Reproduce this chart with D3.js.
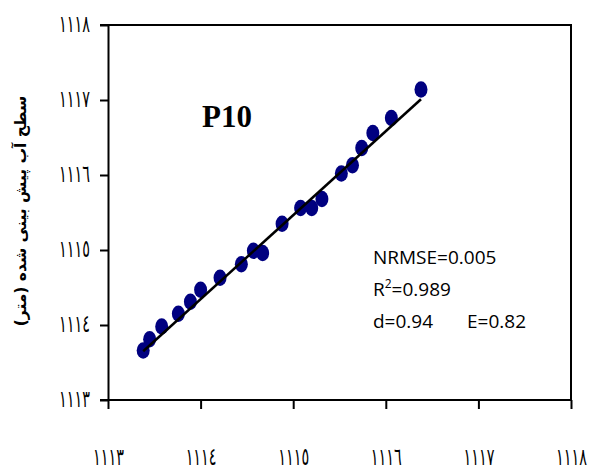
<!DOCTYPE html>
<html>
<head>
<meta charset="utf-8">
<script src="https://cdn.jsdelivr.net/npm/d3@7"></script>
<style>
  body { margin: 0; background: #fff; }
  svg { display: block; }
</style>
</head>
<body>
<div id="container"><svg id="canvas"></svg></div>
<script>
var canvas_width = 591, canvas_height = 472;

// observed (x) vs predicted (y) water level, m
var obsX  = [1113.38, 1113.45, 1113.58, 1113.76, 1113.89, 1114.00, 1114.21, 1114.44, 1114.57, 1114.67,
             1114.88, 1115.08, 1115.20, 1115.31, 1115.52, 1115.64, 1115.74, 1115.86, 1116.06, 1116.38];
var predY = [1113.66, 1113.81, 1113.98, 1114.15, 1114.31, 1114.47, 1114.63, 1114.81, 1114.99, 1114.96,
             1115.35, 1115.56, 1115.56, 1115.68, 1116.02, 1116.13, 1116.36, 1116.56, 1116.76, 1117.14];

// trend line (start / end)
var trendX = [1113.38, 1116.38];
var trendY = [1113.65, 1117.01];

var tickValues = [1113, 1114, 1115, 1116, 1117, 1118];
var tickLabels = ['١١١٣', '١١١٤', '١١١٥', '١١١٦', '١١١٧', '١١١٨'];

var yTitle = 'سطح آب پیش بینی شده (متر)';
var panelName = 'P10';
var stats = ['NRMSE=0.005', '=0.989', 'd=0.94', 'E=0.82'];

// ************************************************************************************** //
// Create

var svg = d3.select('#canvas').attr('width', canvas_width).attr('height', canvas_height);
var plot = { left: 108, right: 571, top: 25, bottom: 400 };
var digitSqueeze = 0.6; // DejaVu arabic digits are short and wide, squeeze them to look like the original

var xScale = d3.scaleLinear().domain([1113, 1118]).range([plot.left, plot.right]);
var yScale = d3.scaleLinear().domain([1113, 1118]).range([plot.bottom, plot.top]);

// frame (top / right)
svg.append('path')
  .attr('d', 'M' + (plot.left - 8) + ',' + plot.top + 'H' + plot.right + 'V' + plot.bottom)
  .attr('fill', 'none').attr('stroke', '#000').attr('stroke-width', 2);

var xAxis = svg.append('g').attr('transform', 'translate(0,' + plot.bottom + ')')
  .call(d3.axisBottom(xScale).tickValues(tickValues).tickSize(9).tickSizeOuter(0).tickPadding(39)
    .tickFormat(function(d, i){ return tickLabels[i]; }));

var yAxis = svg.append('g').attr('transform', 'translate(' + plot.left + ',0)')
  .call(d3.axisLeft(yScale).tickValues(tickValues).tickSize(8).tickSizeOuter(0).tickPadding(10)
    .tickFormat(function(d, i){ return tickLabels[i]; }));

[xAxis, yAxis].forEach(function(ax){
  ax.select('.domain').attr('stroke-width', 2);
  ax.selectAll('.tick line').attr('stroke-width', 2);
  ax.selectAll('.tick text').attr('font-family', '"DejaVu Sans"').attr('font-size', 24).attr('fill', '#000')
    .attr('transform', 'scale(' + digitSqueeze + ',1)');
});
xAxis.select('.domain').attr('d', 'M' + (plot.left - 8) + ',0H' + plot.right);
yAxis.selectAll('.tick text').attr('x', -18 / digitSqueeze).attr('dy', '0.28em');

// points
svg.append('g').selectAll('ellipse').data(obsX).enter().append('ellipse')
  .attr('cx', function(d){ return xScale(d); })
  .attr('cy', function(d, i){ return yScale(predY[i]); })
  .attr('rx', 6.5).attr('ry', 8.3)
  .attr('fill', '#000080');

// trend line
svg.append('line')
  .attr('x1', xScale(trendX[0])).attr('y1', yScale(trendY[0]))
  .attr('x2', xScale(trendX[1])).attr('y2', yScale(trendY[1]))
  .attr('stroke', '#000').attr('stroke-width', 2.5);

// texts
svg.append('text').attr('x', 202).attr('y', 127)
  .attr('font-family', '"Liberation Serif"').attr('font-weight', 'bold').attr('font-size', 31)
  .text(panelName);

var statFont = { 'font-family': '"Open Sans"', 'font-size': 19 };
var t1 = svg.append('text').attr('x', 373).attr('y', 264).text(stats[0]);
var t2 = svg.append('text').attr('x', 373).attr('y', 296);
t2.append('tspan').text('R');
t2.append('tspan').attr('dy', -8).attr('font-size', 12).text('2');
t2.append('tspan').attr('dy', 8).text(stats[1]);
var t3 = svg.append('text').attr('x', 373).attr('y', 328).text(stats[2]);
var t4 = svg.append('text').attr('x', 467).attr('y', 328).text(stats[3]);
[t1, t2, t3, t4].forEach(function(t){
  t.attr('font-family', statFont['font-family']).attr('font-size', statFont['font-size']).attr('fill', '#000');
});

svg.append('text')
  .attr('transform', 'translate(26,211) rotate(-90)')
  .attr('text-anchor', 'middle')
  .attr('direction', 'rtl')
  .attr('font-family', '"DejaVu Sans"').attr('font-weight', 'bold').attr('font-size', 15.5)
  .text(yTitle);
</script>
</body>
</html>
